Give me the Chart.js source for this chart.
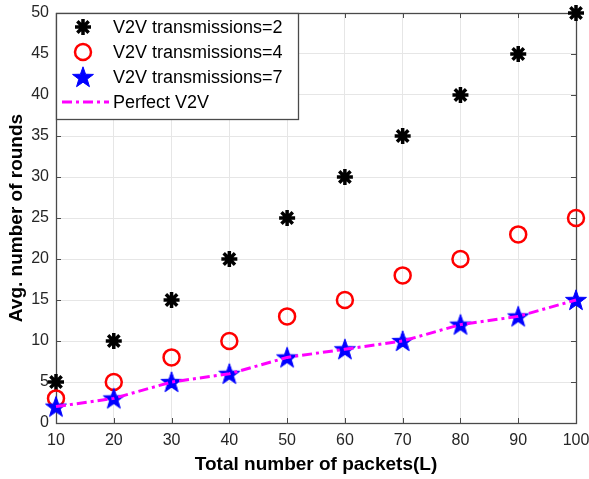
<!DOCTYPE html>
<html>
<head>
<meta charset="utf-8">
<script src="https://cdn.jsdelivr.net/npm/chart.js@4"></script>
<style>
html,body{margin:0;padding:0;background:#fff;}
#wrap{width:589px;height:479px;}
</style>
</head>
<body>
<div id="wrap"><canvas id="c" width="589" height="479"></canvas></div>
<script>
const packets = [10, 20, 30, 40, 50, 60, 70, 80, 90, 100];
const tx2 = [5, 10, 15, 20, 25, 30, 35, 40, 45, 50];
const tx4 = [3, 5, 8, 10, 13, 15, 18, 20, 23, 25];
const tx7 = [2, 3, 5, 6, 8, 9, 10, 12, 13, 15];
const perfect = [2, 3, 5, 6, 8, 9, 10, 12, 13, 15];
const seriesLabels = ['V2V transmissions=2', 'V2V transmissions=4', 'V2V transmissions=7', 'Perfect V2V'];
const xTitle = 'Total number of packets(L)';
const yTitle = 'Avg. number of rounds';

const FONT = '"Liberation Sans", Arial, Helvetica, sans-serif';
const AX = '#262626';
const FRAME = '#4a4a4a';

function pentagram(size, color) {
  const c = document.createElement('canvas');
  c.width = size; c.height = size;
  const g = c.getContext('2d');
  const cx = size / 2, cy = size / 2 + 0.8, R = size / 2 - 1, r = R * 0.40;
  g.beginPath();
  for (let i = 0; i < 10; i++) {
    const a = -Math.PI / 2 + i * Math.PI / 5;
    const rr = i % 2 === 0 ? R : r;
    const x = cx + rr * Math.cos(a), y = cy + rr * Math.sin(a);
    if (i === 0) g.moveTo(x, y); else g.lineTo(x, y);
  }
  g.closePath();
  g.fillStyle = color; g.fill();
  g.lineWidth = 1; g.strokeStyle = color; g.stroke();
  return c;
}
const starImg = pentagram(24, '#0000ff');

const pts = (arr) => packets.map((x, i) => ({x: x, y: arr[i]}));

const frame = {
  id: 'frame',
  beforeDatasetsDraw(chart) {
    const {ctx, chartArea: a, scales} = chart;
    ctx.save();
    ctx.strokeStyle = FRAME; ctx.lineWidth = 1;
    const L = 5;
    ctx.beginPath();
    scales.x.ticks.forEach(t => {
      const x = Math.round(scales.x.getPixelForValue(t.value)) + 0.5;
      ctx.moveTo(x, a.bottom); ctx.lineTo(x, a.bottom - L);
      ctx.moveTo(x, a.top); ctx.lineTo(x, a.top + L);
    });
    scales.y.ticks.forEach(t => {
      const y = Math.round(scales.y.getPixelForValue(t.value)) + 0.5;
      ctx.moveTo(a.left, y); ctx.lineTo(a.left + L, y);
      ctx.moveTo(a.right, y); ctx.lineTo(a.right - L, y);
    });
    ctx.stroke();
    ctx.lineWidth = 1.3;
    ctx.strokeRect(Math.round(a.left) + 0.5, Math.round(a.top) + 0.5, Math.round(a.right - a.left), Math.round(a.bottom - a.top));
    ctx.restore();
  }
};

const legendBox = {
  id: 'legendBox',
  afterDraw(chart) {
    const {ctx, chartArea: a} = chart;
    const bx = Math.round(a.left) + 0.5, by = Math.round(a.top) + 0.5, bw = 242, bh = 106;
    ctx.save();
    ctx.fillStyle = '#fff';
    ctx.fillRect(bx, by, bw, bh);
    ctx.strokeStyle = FRAME; ctx.lineWidth = 1.3;
    ctx.strokeRect(bx, by, bw, bh);
    const rows = [27, 52, 77, 102];
    const mx = 83;
    const ds = chart.data.datasets;
    ctx.font = '18px ' + FONT;
    ctx.textBaseline = 'middle';
    ctx.textAlign = 'left';
    for (let i = 0; i < 4; i++) {
      const d = ds[i];
      const y = rows[i];
      if (d.showLine) {
        ctx.save();
        ctx.strokeStyle = d.borderColor; ctx.lineWidth = d.borderWidth;
        ctx.setLineDash(d.borderDash);
        ctx.beginPath(); ctx.moveTo(62, y); ctx.lineTo(109, y); ctx.stroke();
        ctx.restore();
      } else {
        ctx.save();
        ctx.strokeStyle = d.pointBorderColor; ctx.fillStyle = d.pointBackgroundColor;
        ctx.lineWidth = d.pointBorderWidth;
        Chart.helpers.drawPoint(ctx, {pointStyle: d.pointStyle, radius: d.pointRadius, rotation: 0, borderWidth: d.pointBorderWidth}, mx, y);
        ctx.restore();
      }
      ctx.fillStyle = '#000';
      ctx.fillText(d.label, 113, y + 1);
    }
    ctx.restore();
  }
};

function noPad(s) {
  s.paddingTop = 0; s.paddingBottom = 0; s.paddingLeft = 0; s.paddingRight = 0;
}

new Chart(document.getElementById('c'), {
  type: 'scatter',
  data: {
    datasets: [
      {label: seriesLabels[0], data: pts(tx2), showLine: false, pointStyle: 'star', pointRadius: 8, pointBorderWidth: 3.5, pointBorderColor: '#000', pointBackgroundColor: '#000', order: 3, clip: false},
      {label: seriesLabels[1], data: pts(tx4), showLine: false, pointStyle: 'circle', pointRadius: 8, pointBorderWidth: 2.5, pointBorderColor: '#ff0000', pointBackgroundColor: 'rgba(0,0,0,0)', order: 2, clip: false},
      {label: seriesLabels[2], data: pts(tx7), showLine: false, pointStyle: starImg, pointRadius: 12, pointBorderWidth: 1, pointBorderColor: '#0000ff', pointBackgroundColor: '#0000ff', order: 1, clip: false},
      {label: seriesLabels[3], data: pts(perfect), showLine: true, borderColor: '#ff00ff', borderWidth: 3, borderDash: [10, 4, 3, 4], pointRadius: 0, fill: false, tension: 0, order: 0, clip: false}
    ]
  },
  options: {
    responsive: false,
    animation: false,
    devicePixelRatio: window.devicePixelRatio || 1,
    layout: {padding: {top: 10, right: 12, left: 0, bottom: 0}},
    plugins: {legend: {display: false}, tooltip: {enabled: false}},
    scales: {
      x: {
        type: 'linear', min: 10, max: 100,
        afterFit(s) { s.height = 56; noPad(s); },
        ticks: {stepSize: 10, color: AX, font: {family: FONT, size: 16}, padding: 8, maxRotation: 0},
        grid: {color: '#e6e6e6', drawTicks: false},
        border: {display: false},
        title: {display: true, text: xTitle, color: '#000', font: {family: FONT, size: 19, weight: 'bold'}, padding: {top: 0, bottom: 3}}
      },
      y: {
        min: 0, max: 50,
        afterFit(s) { s.width = 56; noPad(s); },
        ticks: {stepSize: 5, color: AX, font: {family: FONT, size: 16}, padding: 7},
        grid: {color: '#e6e6e6', drawTicks: false},
        border: {display: false},
        title: {display: true, text: yTitle, color: '#000', font: {family: FONT, size: 19, weight: 'bold'}, padding: {top: 5, bottom: 0}}
      }
    }
  },
  plugins: [frame, legendBox]
});
</script>
</body>
</html>
